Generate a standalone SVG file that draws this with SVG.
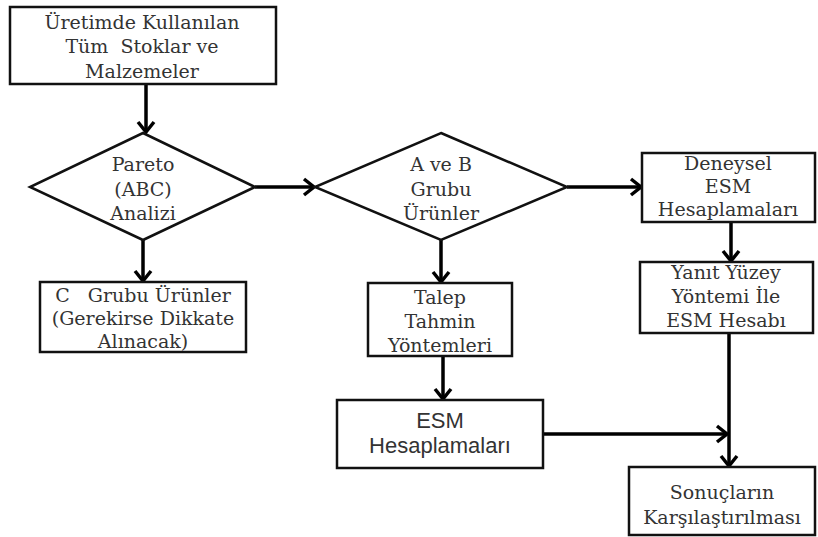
<svg xmlns="http://www.w3.org/2000/svg" width="818" height="537" viewBox="0 0 818 537">
<style>
.box{fill:#fff;stroke:#111;stroke-width:2.5}
.t{font-family:"DejaVu Serif","Liberation Serif",serif;font-size:19px;fill:#333;text-anchor:middle;white-space:pre}
.s{font-family:"Liberation Sans",sans-serif;font-size:22px;fill:#333;text-anchor:middle}
.c{fill:none;stroke:#000;stroke-width:3.5}
</style>
<defs>
<marker id="ah" markerUnits="userSpaceOnUse" markerWidth="20" markerHeight="20" refX="12" refY="10" orient="auto" overflow="visible">
<path d="M2,2 L12,10 L2,18" fill="none" stroke="#000" stroke-width="3.5"/>
</marker>
</defs>
<rect width="818" height="537" fill="#fff"/>
<g id="connectors">
<line class="c" x1="146" y1="84" x2="146" y2="132" marker-end="url(#ah)"/>
<line class="c" x1="143" y1="240" x2="143" y2="281" marker-end="url(#ah)"/>
<line class="c" x1="255" y1="187" x2="314" y2="187" marker-end="url(#ah)"/>
<line class="c" x1="441" y1="240" x2="441" y2="282" marker-end="url(#ah)"/>
<line class="c" x1="567" y1="187" x2="641" y2="187" marker-end="url(#ah)"/>
<line class="c" x1="731" y1="222" x2="731" y2="261" marker-end="url(#ah)"/>
<line class="c" x1="443" y1="356" x2="443" y2="399" marker-end="url(#ah)"/>
<line class="c" x1="729" y1="333" x2="729" y2="466" marker-end="url(#ah)"/>
<line class="c" x1="543" y1="434" x2="727" y2="434" marker-end="url(#ah)"/>
</g>
<g id="n1">
<rect class="box" x="10" y="7" width="266" height="77"/>
<text class="t" x="142" y="29">Üretimde Kullanılan</text>
<text class="t" x="142" y="53">Tüm  Stoklar ve</text>
<text class="t" x="142" y="78">Malzemeler</text>
</g>
<g id="d1">
<polygon class="box" points="143,133 255,187 143,240 30,187"/>
<text class="t" x="143" y="171">Pareto</text>
<text class="t" x="143" y="196">(ABC)</text>
<text class="t" x="143" y="220">Analizi</text>
</g>
<g id="n2">
<rect class="box" x="40" y="282" width="206" height="70"/>
<text class="t" x="143" y="302">C   Grubu Ürünler</text>
<text class="t" x="143" y="325">(Gerekirse Dikkate</text>
<text class="t" x="143" y="348">Alınacak)</text>
</g>
<g id="d2">
<polygon class="box" points="441,133 567,187 441,240 315,187"/>
<text class="t" x="441" y="171">A ve B</text>
<text class="t" x="441" y="196">Grubu</text>
<text class="t" x="441" y="220">Ürünler</text>
</g>
<g id="n3">
<rect class="box" x="368" y="283" width="144" height="73"/>
<text class="t" x="440" y="304">Talep</text>
<text class="t" x="440" y="328">Tahmin</text>
<text class="t" x="440" y="352">Yöntemleri</text>
</g>
<g id="n4">
<rect class="box" x="642" y="153" width="173" height="69"/>
<text class="t" x="728" y="170">Deneysel</text>
<text class="t" x="728" y="193">ESM</text>
<text class="t" x="728" y="216">Hesaplamaları</text>
</g>
<g id="n5">
<rect class="box" x="640" y="262" width="173" height="71"/>
<text class="t" x="726" y="279">Yanıt Yüzey</text>
<text class="t" x="726" y="303">Yöntemi İle</text>
<text class="t" x="726" y="327">ESM Hesabı</text>
</g>
<g id="n6">
<rect class="box" x="337" y="400" width="206" height="68"/>
<text class="s" x="440" y="428">ESM</text>
<text class="s" x="440" y="453">Hesaplamaları</text>
</g>
<g id="n7">
<rect class="box" x="629" y="467" width="186" height="68"/>
<text class="t" x="722" y="499">Sonuçların</text>
<text class="t" x="722" y="524">Karşılaştırılması</text>
</g>
</svg>
